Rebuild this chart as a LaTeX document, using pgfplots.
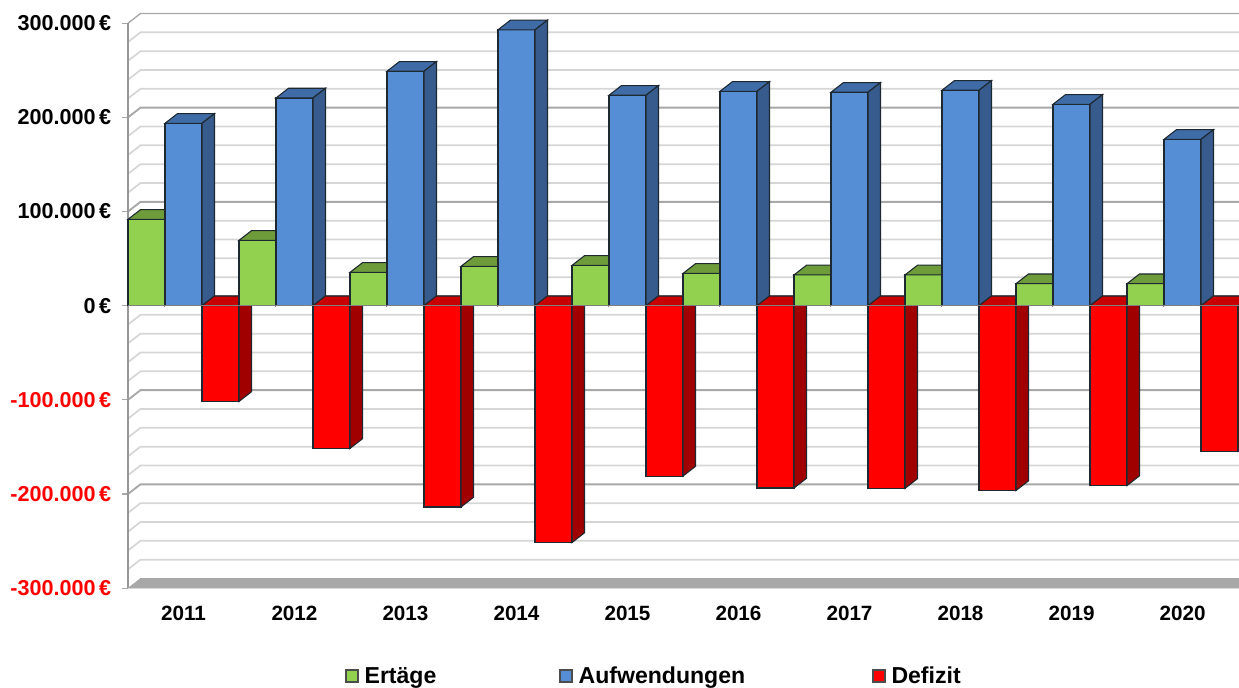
\documentclass[border=0pt]{standalone}
\usepackage{pgfplots}
\pgfplotsset{compat=1.18}
\usepackage{fontspec}
\setmainfont{Liberation Sans}
\definecolor{gF}{HTML}{92D050}\definecolor{gT}{HTML}{6E9C3A}\definecolor{gS}{HTML}{5F8A32}
\definecolor{bF}{HTML}{558ED5}\definecolor{bT}{HTML}{3F6CA6}\definecolor{bS}{HTML}{365B8C}
\definecolor{rF}{HTML}{FF0000}\definecolor{rT}{HTML}{C80000}\definecolor{rS}{HTML}{A00000}
\definecolor{edge}{HTML}{1E2830}
\definecolor{gMinor}{HTML}{D6D6D6}\definecolor{gMajor}{HTML}{A8A8A8}
\def\dx{0.1126}\def\dy{10.3}\def\xL{-0.5}\def\xR{9.5117}
% one bar: category, slot (0,1,2), value (1000 EUR), front, top, side colours
\newcommand\tdbar[6]{%
  \pgfmathsetmacro\xa{#1-0.5+#2/3}%
  \pgfmathsetmacro\xb{\xa+1/3}%
  \pgfmathsetmacro\xc{\xa+\dx}%
  \pgfmathsetmacro\xd{\xb+\dx}%
  \pgfmathsetmacro\xm{\xa+1/6}%
  \pgfmathsetmacro\yt{max(#3,0)}%
  \pgfmathsetmacro\yu{\yt+\dy}%
  \pgfmathsetmacro\yv{#3+\dy}%
  \edef\tmp{%
   \noexpand\addplot[forget plot,ybar,bar width=0.3333,bar shift=0pt,fill=#4,draw=edge,line width=0.8pt] coordinates {(\xm,#3)};
   \noexpand\addplot[forget plot,fill=#5,draw=edge,line width=0.8pt] coordinates {(\xa,\yt)(\xb,\yt)(\xd,\yu)(\xc,\yu)} --cycle;
   \noexpand\addplot[forget plot,fill=#6,draw=edge,line width=0.8pt] coordinates {(\xb,#3)(\xb,0)(\xd,\dy)(\xd,\yv)} --cycle;
  }\tmp}
\newcommand\cat[4]{%
  \tdbar{#1}{0}{#2}{gF}{gT}{gS}%
  \tdbar{#1}{1}{#3}{bF}{bT}{bS}%
  \tdbar{#1}{2}{#4}{rF}{rT}{rS}}
\newcommand\gridl[3]{% value, colour, width
  \pgfmathsetmacro\xc{\xL+\dx}\pgfmathsetmacro\yu{#1+\dy}%
  \edef\tmp{\noexpand\addplot[forget plot,#2,line width=#3] coordinates {(\xL,#1)(\xc,\yu)(\xR,\yu)};}\tmp}
\begin{document}
\begin{tikzpicture}[x=0.75pt,y=0.75pt]
\useasboundingbox (0,0) rectangle (1239,688);
\begin{axis}[
  at={(115.3,106)},anchor=south west,
  scale only axis,width=833.5pt,height=431pt,
  xmin=-0.5,xmax=9.5117,ymin=-300,ymax=310.3,
  clip=false,
  axis line style={draw=none},
  xtick={0,1,2,3,4,5,6,7,8,9},
  xticklabels={2011,2012,2013,2014,2015,2016,2017,2018,2019,2020},
  xtick style={draw=none},
  x tick label style={font=\fontsize{15.5}{17}\selectfont\bfseries,text=black,yshift=-5.5pt},
  ytick={-300,-200,-100,0,100,200,300},
  yticklabels={\textcolor{red}{-300.000\,€},\textcolor{red}{-200.000\,€},\textcolor{red}{-100.000\,€},0\,€,100.000\,€,200.000\,€,300.000\,€},
  ytick pos=left,
  tick align=outside,
  major tick length=4.5pt,
  ytick style={draw=gMajor,line width=0.9pt},
  y tick label style={font=\fontsize{16.2}{18}\selectfont\bfseries,xshift=-4.5pt},
  legend cell align=left,
  legend style={at={(0.4735,-0.153)},anchor=center,draw=none,fill=none,
    font=\fontsize{17.3}{19}\selectfont\bfseries,inner sep=0pt,
    /tikz/column 1/.style={column sep=2.5pt},
    /tikz/column 3/.style={column sep=2.5pt},
    /tikz/column 5/.style={column sep=2.5pt},
    /tikz/column 2/.style={column sep=90pt},
    /tikz/column 4/.style={column sep=93pt}},
  legend columns=3,
  legend image code/.code={\draw[#1,draw=black!70,line width=1.2pt] (0pt,-4.5pt) rectangle (9pt,4.5pt);},
]
% walls, grid and floor
\pgfplotsinvokeforeach{-280,-260,-240,-220,-180,-160,-140,-120,-80,-60,-40,-20,20,40,60,80,120,140,160,180,220,240,260,280}{\gridl{#1}{gMinor}{1.3pt}}
\pgfplotsinvokeforeach{-200,-100,0,100,200}{\gridl{#1}{gMajor}{1.4pt}}
\gridl{300}{gMajor}{1pt}
\addplot[forget plot,gMajor!90!black,line width=1.3pt] coordinates {(-0.5,-300)(-0.5,300)};
\addplot[forget plot,fill=gMajor,draw=gMajor] coordinates {(-0.5,-300)(9.5117,-300)(9.6243,-289.7)(-0.3874,-289.7)} --cycle;
% bars: value in 1000 EUR
\cat{0}{91.7}{193.7}{-101.7}
\cat{1}{69.4}{220.6}{-151.6}
\cat{2}{35.4}{249.0}{-213.8}
\cat{3}{41.8}{293.0}{-251.5}
\cat{4}{42.8}{223.5}{-180.9}
\cat{5}{34.3}{227.7}{-193.6}
\cat{6}{32.7}{226.7}{-194.0}
\cat{7}{32.7}{228.8}{-196.3}
\cat{8}{23.4}{213.9}{-191.0}
\cat{9}{23.4}{176.7}{-154.5}
\addplot[forget plot,draw=black!50,line width=1.1pt] coordinates {(-0.5,0)(9.5117,0)};
\addlegendimage{fill=gF}\addlegendentry{Ertäge}
\addlegendimage{fill=bF}\addlegendentry{Aufwendungen}
\addlegendimage{fill=rF}\addlegendentry{Defizit}
\end{axis}
\end{tikzpicture}
\end{document}
